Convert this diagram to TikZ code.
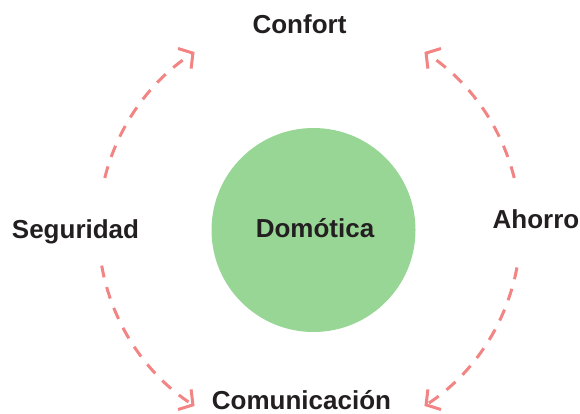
\documentclass[tikz,border=0pt]{standalone}
\usepackage{fontspec}
\setmainfont{Liberation Sans}
\usetikzlibrary{arrows.meta}
\definecolor{hubgreen}{RGB}{152,214,150}
\definecolor{cyclered}{RGB}{242,132,132}
\definecolor{labeltext}{RGB}{35,31,32}
\begin{document}
\begin{tikzpicture}[x=1pt,y=-1pt,
  lbl/.style={anchor=base,inner sep=0pt,text=labeltext,font=\fontsize{26}{30}\selectfont\bfseries},
  cyc/.style={draw=cyclered,line width=3pt,dash pattern=on 12pt off 10pt,
    -{Straight Barb[length=10pt,width=24pt,line width=3pt]}},
]
\useasboundingbox (0,0) rectangle (580,413);
\coordinate (c) at (309.5,229);
\node[circle,fill=hubgreen,minimum size=204pt,inner sep=0pt] (hub) at (313.5,230) {};
\node[lbl] (dom) at (315,237) {Domótica};
\node[lbl] (conf) at (299.5,33) {Confort};
\node[lbl] (seg) at (75.5,238) {Seguridad};
\node[lbl] (aho) at (536,228) {Ahorro};
\node[lbl] (com) at (301.5,409) {Comunicación};
\path (c) ++(194:211) coordinate (tls);
\path (c) ++(346:211) coordinate (trs);
\path (c) ++(170:211) coordinate (bls);
\path (c) ++(10.5:211) coordinate (brs);
\draw[cyc] (tls) arc[start angle=194,end angle=237,radius=211];
\draw[cyc] (trs) arc[start angle=346,end angle=303,radius=211];
\draw[cyc] (bls) arc[start angle=170,end angle=123,radius=211];
\draw[cyc] (brs) arc[start angle=10.5,end angle=57,radius=211];
\end{tikzpicture}
\end{document}
